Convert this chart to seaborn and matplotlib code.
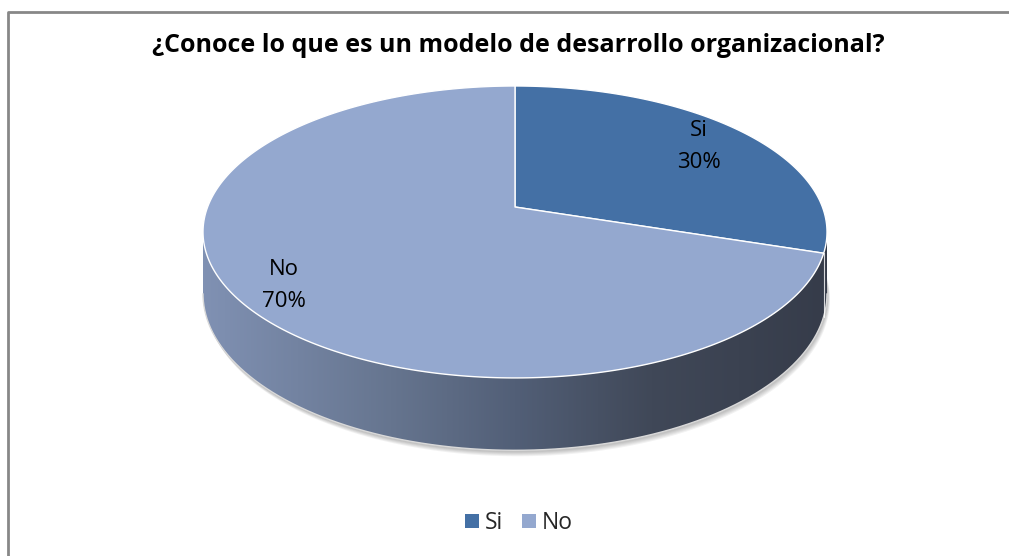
import numpy as np
import matplotlib
matplotlib.use("Agg")
import matplotlib.pyplot as plt
import seaborn as sns
from matplotlib.patches import Polygon, Rectangle
from matplotlib.colors import LinearSegmentedColormap

# ---- data ----
categories = ["Si", "No"]
values = [30, 70]
top_colors = ["#4470A5", "#94A8CF"]
title = "¿Conoce lo que es un modelo de desarrollo organizacional?"

sns.set_theme(style="white")
plt.rcParams['font.family'] = ['Open Sans', 'DejaVu Sans']

W, H = 1009, 556
fig = plt.figure(figsize=(W / 100, H / 100), dpi=100)
ax = fig.add_axes([0, 0, 1, 1])
ax.set_xlim(0, W)
ax.set_ylim(H, 0)
ax.axis('off')

# chart-area border (top and left visible)
ax.plot([8, 8, W], [H, 12, 12], color="#878787", lw=2, solid_capstyle='butt', zorder=1)

# ---- perspective pie geometry ----
cx, cy = 515.0, 207.0
k = 0.171
Sx, Sy = 307.4, 141.7
D = 60.0


def proj(theta, r=1.0, depth=0.0):
    w = 1 + k * r * np.sin(theta)
    X = cx + Sx * r * np.cos(theta) / w
    Y = cy - Sy * r * np.sin(theta) / w + depth / w
    return X, Y


fracs = np.array(values, dtype=float) / np.sum(values)
starts = np.pi / 2 - 2 * np.pi * np.concatenate([[0], np.cumsum(fracs)[:-1]])
ends = starts - 2 * np.pi * fracs

# side silhouette (front half)
tl = np.pi + np.arcsin(k)
tr = 2 * np.pi - np.arcsin(k)
ts = np.linspace(tl, tr, 300)
xt, yt = proj(ts)
xb, yb = proj(ts[::-1], depth=D)
side_xy = np.column_stack([np.concatenate([xt, xb]), np.concatenate([yt, yb])])

# soft shadow
tt = np.linspace(0, 2 * np.pi, 400)
for off in [6, 5, 4, 3, 2]:
    sx, sy = proj(tt, depth=D)
    ax.add_patch(Polygon(np.column_stack([sx + off * 0.5, sy + off]), closed=True,
                         facecolor="#000000", alpha=0.05, edgecolor='none', zorder=2))

# side gradient
side_poly = Polygon(side_xy, closed=True, facecolor='none', edgecolor='none', zorder=3)
ax.add_patch(side_poly)
stops = [(0.0, "#8091B3"), (0.30, "#66758F"), (0.50, "#525F77"), (0.72, "#404858"), (1.0, "#363C4A")]
cmap = LinearSegmentedColormap.from_list("side", stops)
grad = np.linspace(0, 1, 512).reshape(1, -1)
im = ax.imshow(grad, cmap=cmap, extent=[xt.min(), xt.max(), yb.max() + 2, yt.min() - 2],
               aspect='auto', zorder=3, interpolation='bilinear')
im.set_clip_path(side_poly)
ax.set_xlim(0, W)
ax.set_ylim(H, 0)

# bottom rim light edge
ax.plot(xb, yb, color="#d9d9d9", lw=1.0, zorder=4)

# Si side boundary line
for e in ends[:1]:
    bx, by = proj(e)
    bx2, by2 = proj(e, depth=D)
    ax.plot([bx, bx2], [by, by2], color="white", lw=0.8, zorder=4, alpha=0.8)

# top faces
for s, e, col in zip(starts, ends, top_colors):
    th = np.linspace(s, e, 300)
    x, y = proj(th)
    xy = np.column_stack([np.concatenate([[cx], x]), np.concatenate([[cy], y])])
    ax.add_patch(Polygon(xy, closed=True, facecolor=col, edgecolor="white", lw=1.0,
                         joinstyle='round', zorder=5))

# data labels
label_r = [0.80, 0.85]
for s, f, cat, r in zip(starts, fracs, categories, label_r):
    mid = s - np.pi * f
    lx, ly = proj(mid, r=r)
    ax.text(lx, ly - 15, cat, ha='center', va='center', fontsize=16, color="black", zorder=6)
    ax.text(lx, ly + 17, f"{f * 100:.0f}%", ha='center', va='center', fontsize=16,
            color="black", zorder=6)

# title
ax.text(518, 46, title, ha='center', va='center', fontsize=18, fontweight='bold',
        color="black", zorder=6)

# legend
handles = [Rectangle((0, 0), 1, 1, facecolor=c, edgecolor='none') for c in top_colors]
fig.legend(handles, categories, loc='center', bbox_to_anchor=(519 / W, 1 - 523 / H),
           ncol=2, frameon=False, fontsize=16.5, handlelength=0.6, handleheight=0.6,
           handletextpad=0.28, columnspacing=0.8)

fig.savefig("out.png", dpi=100, facecolor="white")
